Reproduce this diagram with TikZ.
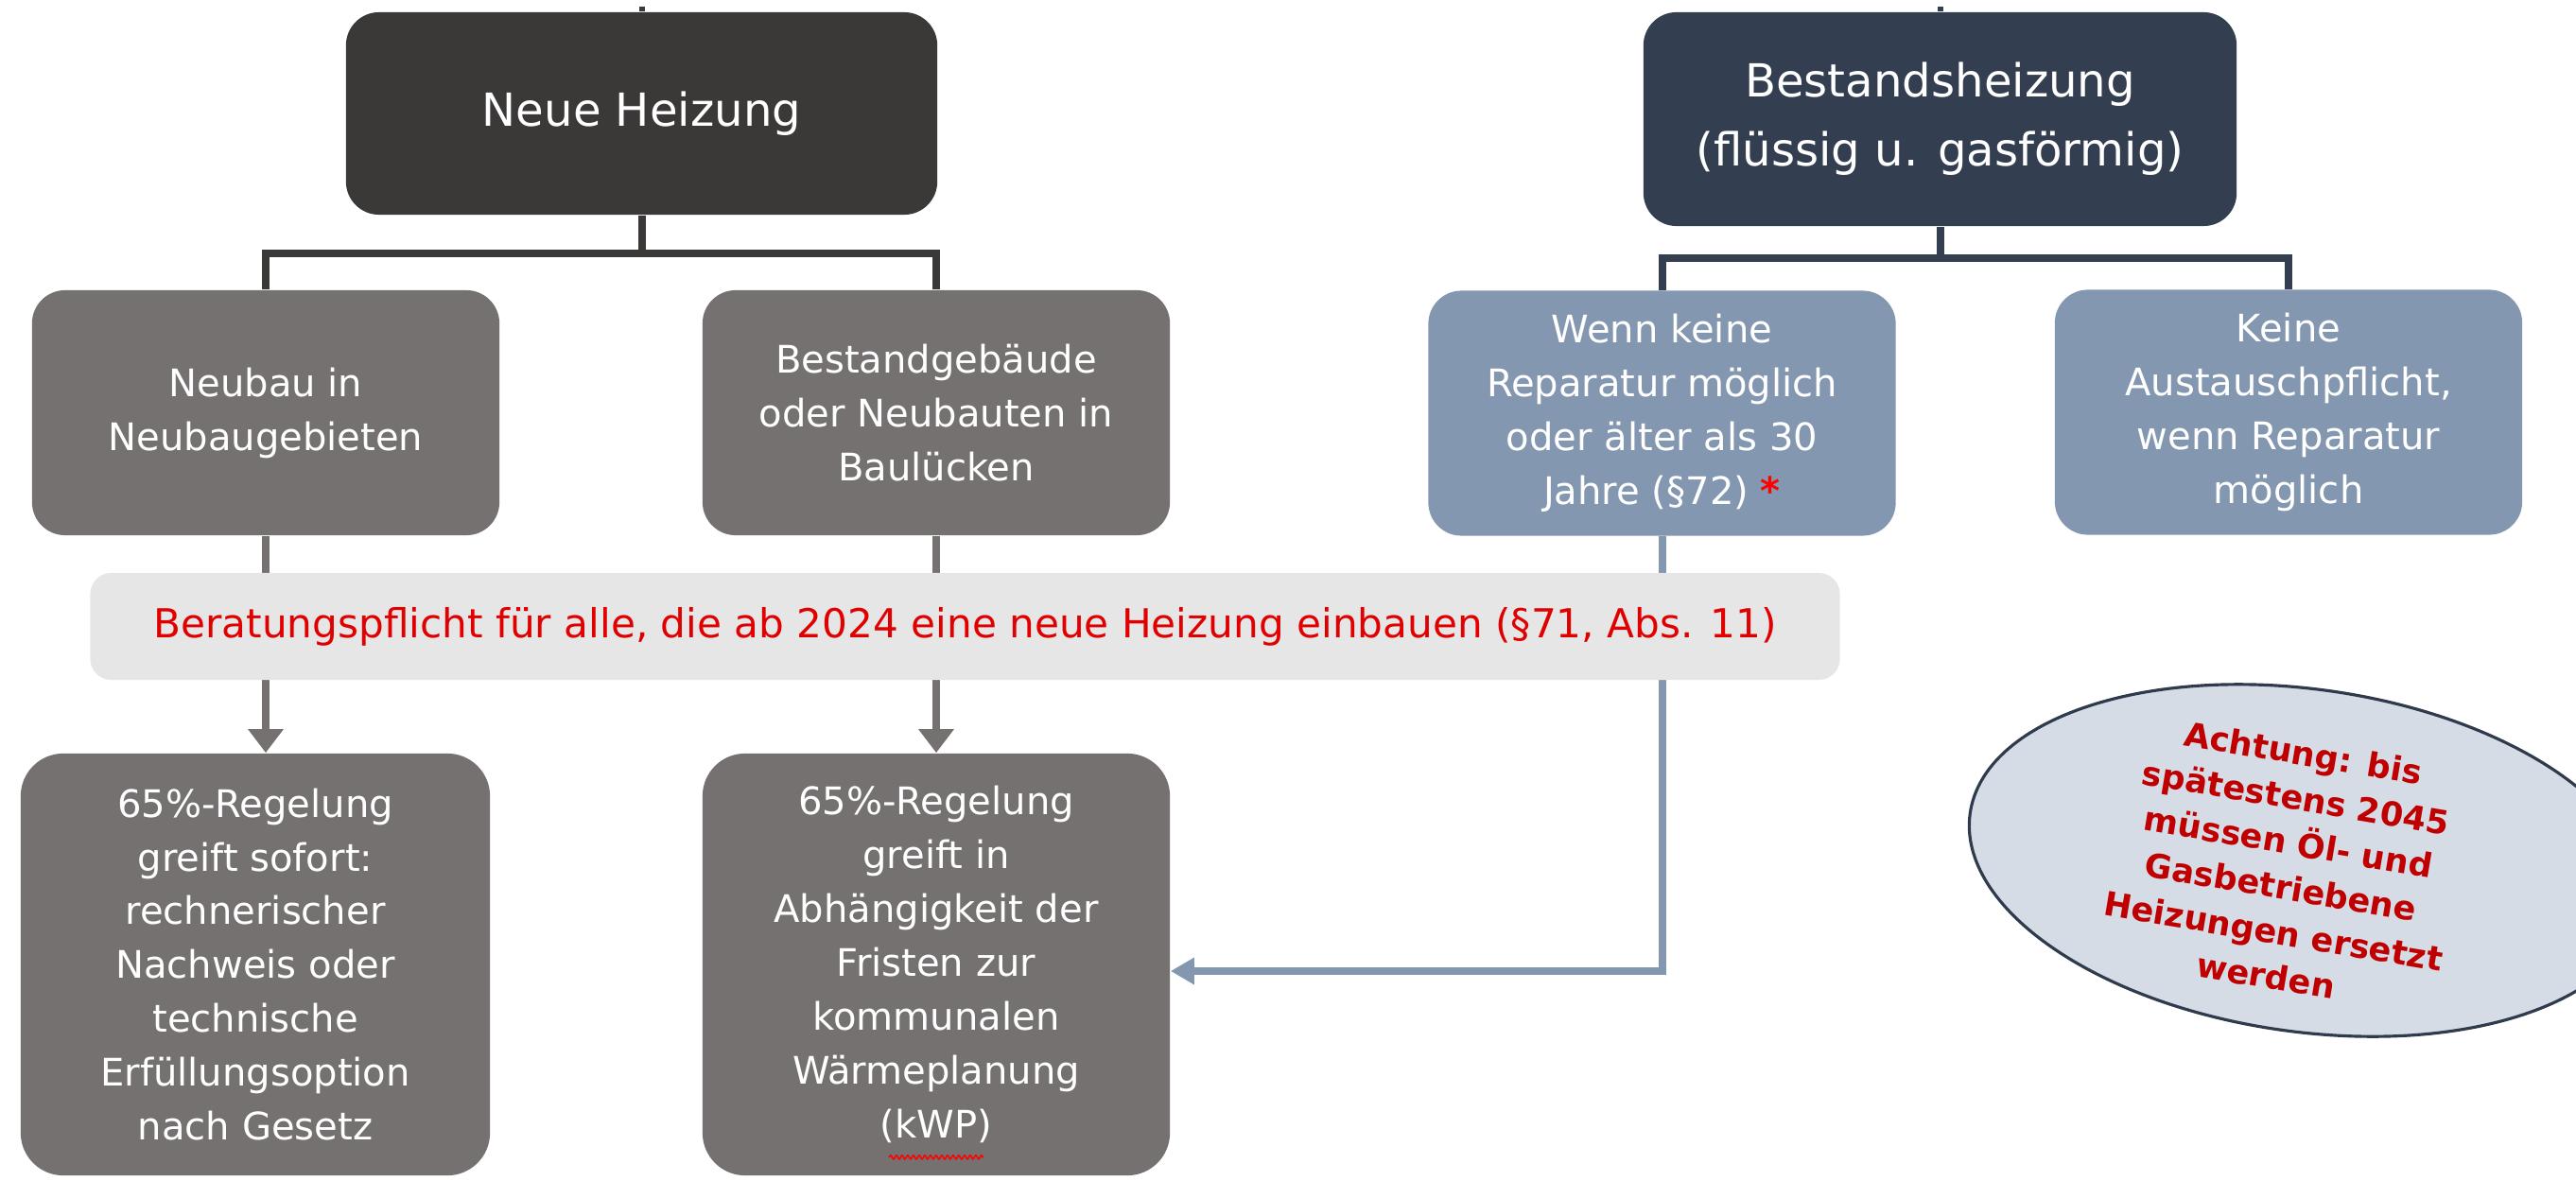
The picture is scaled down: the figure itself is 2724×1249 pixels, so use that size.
\documentclass[tikz,border=0pt]{standalone}
\usepackage{fontspec}
\setmainfont{DejaVu Sans}
\usetikzlibrary{shapes.geometric,arrows.meta,decorations.pathmorphing}
\definecolor{nhgray}{HTML}{3B3838}
\definecolor{bhblue}{HTML}{333F50}
\definecolor{midgray}{HTML}{767171}
\definecolor{lightblue}{HTML}{8497B0}
\definecolor{bandgray}{HTML}{E7E6E6}
\definecolor{bandred}{HTML}{E00000}
\definecolor{astred}{HTML}{FF0000}
\definecolor{ellred}{HTML}{C00000}
\definecolor{ellfill}{HTML}{D6DCE5}
\definecolor{ellborder}{HTML}{2F3B4C}
\begin{document}
\begin{tikzpicture}[x=0.01cm,y=-0.01cm,
  box/.style={rounded corners=0.35cm, inner sep=0pt, align=center, text=white,
    minimum width=4.94cm, minimum height=2.59cm},
  titlebox/.style={box, font=\fontsize{13.7}{20.8}\selectfont},
  subbox/.style={box, font=\fontsize{11.4}{16.2}\selectfont},
  lowbox/.style={subbox, fill=midgray, rounded corners=0.45cm, minimum height=4.46cm},
  nhline/.style={draw=nhgray, line width=0.08cm},
  bhline/.style={draw=bhblue, line width=0.08cm},
  grayarrow/.style={draw=midgray, line width=0.08cm, -{Triangle[length=0.25cm,width=0.36cm]}},
  bluearrow/.style={draw=lightblue, line width=0.08cm, -{Triangle[length=0.25cm,width=0.27cm]}},
  spellwave/.style={draw=red, line width=0.45pt, decorate,
    decoration={snake, segment length=0.06cm, amplitude=0.02cm}}
]
\useasboundingbox (0,0) rectangle (2724,1249);
\clip (0,0) rectangle (2724,1249);

% top level
\node[titlebox, fill=nhgray, minimum width=6.25cm, minimum height=2.14cm] (NH) at (678.5,120) {Neue Heizung};
\node[titlebox, fill=bhblue, minimum width=6.27cm, minimum height=2.26cm] (BH) at (2051.5,126) {Bestandsheizung\\(flüssig u. gasförmig)};

% second level
\node[subbox, fill=midgray] (N1) at (281,436.5) {Neubau in\\Neubaugebieten};
\node[subbox, fill=midgray] (N2) at (990,436.5) {Bestandgebäude\\oder Neubauten in\\Baulücken};
\node[subbox, fill=lightblue] (B1) at (1757.5,437) {Wenn keine\\Reparatur möglich\\oder älter als 30\\Jahre (§72) {\color{astred}\bfseries *}};
\node[subbox, fill=lightblue] (B2) at (2420,436) {Keine\\Austauschpflicht,\\wenn Reparatur\\möglich};

% third level
\node[lowbox, minimum width=4.96cm] (L1) at (270,1020) {65\%-Regelung\\greift sofort:\\rechnerischer\\Nachweis oder\\technische\\Erfüllungsoption\\nach Gesetz};
\node[lowbox] (L2) at (990,1020) {65\%-Regelung\\greift in\\Abhängigkeit der\\Fristen zur\\kommunalen\\Wärmeplanung\\(kWP)};
\draw[spellwave] ([xshift=-0.5cm,yshift=0.2cm]L2.south) -- ++(100,0);

% stubs above top boxes
\draw[nhline, line width=0.06cm] (NH.north) -- ++(0,-5);
\draw[bhline, line width=0.06cm] (BH.north) -- ++(0,-5);

% tree connectors
\draw[nhline] (NH.south) -- ++(0,40) -| (N1.north);
\draw[nhline] (NH.south) -- ++(0,40) -| (N2.north);
\draw[bhline] (BH.south) -- ++(0,33) -| (B1.north);
\draw[bhline] (BH.south) -- ++(0,33) -| (B2.north);

% arrows (behind the band)
\draw[grayarrow] (N1.south) -- (N1.south |- L1.north);
\draw[grayarrow] (N2.south) -- (L2.north);
\draw[bluearrow] (B1.south) |- ([yshift=-0.07cm]L2.east);

% band
\node[fill=bandgray, rounded corners=0.22cm, inner sep=0pt, minimum width=18.49cm, minimum height=1.13cm,
  text=bandred, font=\fontsize{12}{14}\selectfont] (band) at (1020.5,662.5)
  {Beratungspflicht für alle, die ab 2024 eine neue Heizung einbauen (§71, Abs. 11)};

% ellipse
\node[ellipse, draw=ellborder, line width=0.9pt, fill=ellfill, rotate=-8, inner sep=0pt,
  minimum width=7.16cm, minimum height=3.62cm] (E) at (2438,910) {};
\node[rotate=-9.5, align=center, text=ellred, inner sep=0pt,
  font=\bfseries\fontsize{10}{13.6}\selectfont] (Etext) at (2416,914)
  {Achtung: bis\\spätestens 2045\\müssen Öl- und\\Gasbetriebene\\Heizungen ersetzt\\werden};
\end{tikzpicture}
\end{document}
